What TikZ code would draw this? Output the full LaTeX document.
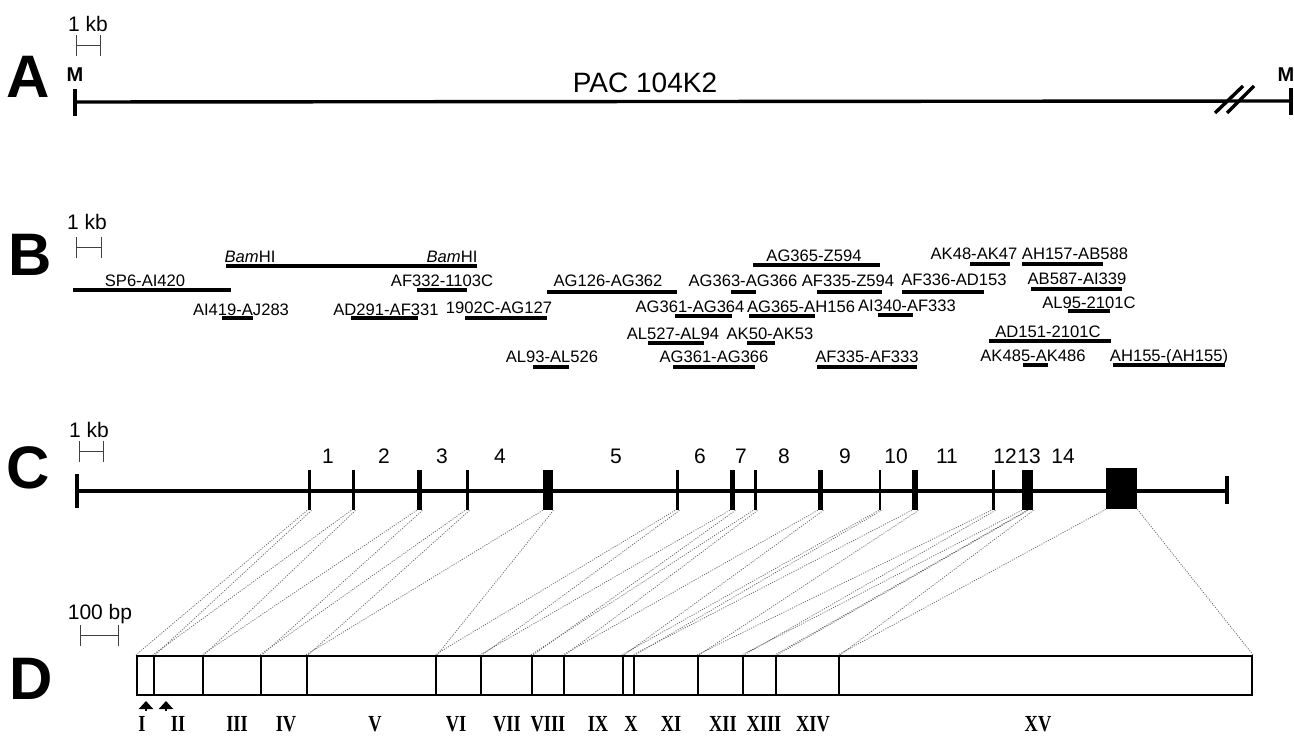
\documentclass[tikz,border=0pt]{standalone}
\usepackage{fontspec}
\setmainfont{Liberation Sans}
\newfontfamily\numfont[FakeStretch=0.8]{Liberation Serif}
\usetikzlibrary{arrows.meta, positioning}

\begin{document}
\begin{tikzpicture}[
    x=0.5pt, y=-0.5pt,
    panel/.style={font=\fontsize{30}{30}\selectfont\bfseries, inner sep=0pt},
    kbtext/.style={font=\fontsize{10.5}{12}\selectfont, anchor=base, inner sep=0pt},
    kbbar/.style={{Bar[width=10.5pt]}-{Bar[width=10.5pt]}, line width=0.5pt, black!75},
    endmark/.style={font=\fontsize{10}{10}\selectfont\bfseries, anchor=base, inner sep=0pt},
    mapline/.style={line width=1.7pt},
    frag/.style={font=\fontsize{8.3}{10}\selectfont, anchor=base, inner sep=0pt},
    clone/.style={line width=1.7pt},
    exon/.style={rectangle, fill=black, inner sep=0pt, minimum height=20pt},
    intron/.style={font=\fontsize{10.5}{12}\selectfont, anchor=base, inner sep=0pt},
    cds/.style={rectangle, draw, line width=1.1pt, inner sep=0pt, minimum height=19.5pt},
    link/.style={black!60, line width=0.4pt, dash pattern=on 0.5pt off 0.7pt},
    numeral/.style={font={\numfont\bfseries\fontsize{11.5}{13}\selectfont}, anchor=base, inner sep=0pt},
    startcodon/.style={-{Triangle[width=7pt, length=4pt]}, line width=1.1pt}
  ]
    \path[use as bounding box, fill=white] (0,0) rectangle (1294,737);

    % A
    \node[panel] (labA) at (28,77) {A};
    \node[kbtext] (kbA) at (88,32) {1 kb};
    \draw[kbbar] (76,46) -- (101,46);
    \node[endmark] (mA0) at (75,82) {M};
    \node[endmark] (mA1) at (1286,82) {M};
    \coordinate (mapA0) at (75,102);
    \coordinate (mapA1) at (1291,101);
    \draw[mapline] (mapA0) -- (mapA1);
    \draw[mapline] (75,89) -- (75,116);
    \draw[mapline] (1291,88) -- (1291,115);
    \draw[mapline] (1215,113) -- (1243,86) (1227,113) -- (1254,86);
    \node[font=\fontsize{14}{16}\selectfont, anchor=base, inner sep=0pt] (pac) at (645,93) {PAC 104K2};

    % B
    \node[panel] (labB) at (30,255) {B};
    \node[kbtext] (kbB) at (87,230) {1 kb};
    \draw[kbbar] (76,248) -- (102,248);

    \node[frag] (bam1) at (250,263) {\textit{Bam}HI};
    \node[frag] (bam2) at (452,263) {\textit{Bam}HI};
    \node[frag] (ag365z) at (814,262) {AG365-Z594};
    \node[frag] (ak48) at (974,260) {AK48-AK47};
    \node[frag] (ah157) at (1075,260) {AH157-AB588};

    \node[frag] (sp6) at (145,287) {SP6-AI420};
    \node[frag] (af332) at (442,287) {AF332-1103C};
    \node[frag] (ag126) at (608,287) {AG126-AG362};
    \node[frag] (ag363) at (743,287) {AG363-AG366};
    \node[frag] (af335z) at (848,287) {AF335-Z594};
    \node[frag] (af336) at (954,286) {AF336-AD153};
    \node[frag] (ab587) at (1077,285) {AB587-AI339};

    \node[frag] (ai419) at (241,315) {AI419-AJ283};
    \node[frag] (ad291) at (386,315) {AD291-AF331};
    \node[frag] (c1902) at (499,314) {1902C-AG127};
    \node[frag] (ag361a) at (690,313) {AG361-AG364};
    \node[frag] (ag365ah) at (801,313) {AG365-AH156};
    \node[frag] (ai340) at (907,312) {AI340-AF333};
    \node[frag] (al95) at (1089,308) {AL95-2101C};

    \node[frag] (al527) at (673,340) {AL527-AL94};
    \node[frag] (ak50) at (770,340) {AK50-AK53};
    \node[frag] (ad151) at (1048,337) {AD151-2101C};

    \node[frag] (al93) at (552,363) {AL93-AL526};
    \node[frag] (ag361b) at (714,363) {AG361-AG366};
    \node[frag] (af335a) at (867,363) {AF335-AF333};
    \node[frag] (ak485) at (1033,361) {AK485-AK486};
    \node[frag] (ah155) at (1169,361) {AH155-(AH155)};

    \draw[clone] (226,266) -- (477,266);
    \draw[clone] (753,265) -- (880,265);
    \draw[clone] (970,264) -- (1010,264);
    \draw[clone] (1022,264) -- (1103,264);
    \draw[clone] (73,290) -- (231,290);
    \draw[clone] (417,290) -- (467,290);
    \draw[clone] (547,292) -- (677,292);
    \draw[clone] (731,292) -- (756,292);
    \draw[clone] (817,292) -- (882,292);
    \draw[clone] (902,292) -- (984,292);
    \draw[clone] (1031,289) -- (1122,289);
    \draw[clone] (222,318) -- (253,318);
    \draw[clone] (351,318) -- (418,318);
    \draw[clone] (465,318) -- (547,318);
    \draw[clone] (675,316) -- (732,316);
    \draw[clone] (749,316) -- (815,316);
    \draw[clone] (878,315) -- (913,315);
    \draw[clone] (1068,311) -- (1110,311);
    \draw[clone] (648,343) -- (704,343);
    \draw[clone] (747,343) -- (775,343);
    \draw[clone] (989,341) -- (1111,341);
    \draw[clone] (533,367) -- (569,367);
    \draw[clone] (673,367) -- (755,367);
    \draw[clone] (817,367) -- (917,367);
    \draw[clone] (1023,365) -- (1048,365);
    \draw[clone] (1113,365) -- (1225,365);

    % C
    \node[panel] (labC) at (28,468) {C};
    \node[kbtext] (kbC) at (89,437) {1 kb};
    \draw[kbbar] (79,451) -- (104,451);
    \coordinate (mapC0) at (77,491);
    \coordinate (mapC1) at (1227,491);
    \draw[mapline] (mapC0) -- (mapC1);
    \draw[mapline] (77,474) -- (77,508);
    \draw[mapline] (1227,476) -- (1227,504);

    \node[exon, minimum width=1.75pt] (c1) at (309.3,490) {};
    \node[exon, minimum width=1.75pt] (c2) at (353.3,490) {};
    \node[exon, minimum width=2.5pt] (c3) at (419.5,490) {};
    \node[exon, minimum width=1.75pt] (c4) at (467.3,490) {};
    \node[exon, minimum width=5pt] (c5) at (548,490) {};
    \node[exon, minimum width=1.75pt] (c6) at (677.3,490) {};
    \node[exon, minimum width=2.5pt] (c7) at (732.5,490) {};
    \node[exon, minimum width=1.75pt] (c8) at (755.3,490) {};
    \node[exon, minimum width=2.5pt] (c9) at (820.5,490) {};
    \node[exon, minimum width=1pt] (c10) at (880,490) {};
    \node[exon, minimum width=3pt] (c11) at (915,490) {};
    \node[exon, minimum width=1.75pt] (c12) at (993.3,490) {};
    \node[exon, minimum width=2.75pt] (c13) at (1024.75,490) {};
    \node[exon, minimum width=2.75pt] (c14) at (1030.25,490) {};
    \node[exon, minimum width=15.5pt, minimum height=20.5pt] (c15) at (1121.5,488.5) {};

    \node[intron] (i1) at (328,463) {1};
    \node[intron] (i2) at (384,463) {2};
    \node[intron] (i3) at (442,463) {3};
    \node[intron] (i4) at (500,463) {4};
    \node[intron] (i5) at (616,463) {5};
    \node[intron] (i6) at (700,463) {6};
    \node[intron] (i7) at (741,463) {7};
    \node[intron] (i8) at (784,463) {8};
    \node[intron] (i9) at (845,463) {9};
    \node[intron] (i10) at (896,463) {10};
    \node[intron] (i11) at (947,463) {11};
    \node[intron] (i12) at (1005,463) {12};
    \node[intron] (i13) at (1029,463) {13};
    \node[intron] (i14) at (1063,463) {14};

    % D
    \node[panel] (labD) at (31,679) {D};
    \node[kbtext] (bpD) at (100,619) {100 bp};
    \draw[kbbar] (80,635) -- (119,635);

    \node[cds, minimum width=8.5pt] (dI) at (145.5,675.5) {};
    \node[cds, minimum width=24.5pt] (dII) at (178.5,675.5) {};
    \node[cds, minimum width=29pt] (dIII) at (232,675.5) {};
    \node[cds, minimum width=23pt] (dIV) at (284,675.5) {};
    \node[cds, minimum width=64.5pt] (dV) at (371.5,675.5) {};
    \node[cds, minimum width=22.5pt] (dVI) at (458.5,675.5) {};
    \node[cds, minimum width=25.5pt] (dVII) at (506.5,675.5) {};
    \node[cds, minimum width=16pt] (dVIII) at (548,675.5) {};
    \node[cds, minimum width=29.5pt] (dIX) at (593.5,675.5) {};
    \node[cds, minimum width=5.5pt] (dX) at (628.5,675.5) {};
    \node[cds, minimum width=32pt] (dXI) at (666,675.5) {};
    \node[cds, minimum width=22.5pt] (dXII) at (720.5,675.5) {};
    \node[cds, minimum width=16.5pt] (dXIII) at (759.5,675.5) {};
    \node[cds, minimum width=31.5pt] (dXIV) at (807.5,675.5) {};
    \node[cds, minimum width=206.5pt] (dXV) at (1045.5,675.5) {};

    \node[numeral] (nI) at (142,731) {I};
    \node[numeral] (nII) at (178,731) {II};
    \node[numeral] (nIII) at (237,731) {III};
    \node[numeral] (nIV) at (286,731) {IV};
    \node[numeral] (nV) at (375,731) {V};
    \node[numeral] (nVI) at (456,731) {VI};
    \node[numeral] (nVII) at (507,731) {VII};
    \node[numeral] (nVIII) at (548,731) {VIII};
    \node[numeral] (nIX) at (598,731) {IX};
    \node[numeral] (nX) at (631,731) {X};
    \node[numeral] (nXI) at (671,731) {XI};
    \node[numeral] (nXII) at (723,731) {XII};
    \node[numeral] (nXIII) at (764,731) {XIII};
    \node[numeral] (nXIV) at (813,731) {XIV};
    \node[numeral] (nXV) at (1038,731) {XV};

    \coordinate (atg1) at (146,711);
    \coordinate (atg2) at (166,711);
    \draw[startcodon] (atg1) -- ++(0,-10);
    \draw[startcodon] (atg2) -- ++(0,-10);

    \draw[link] (c1.south west) -- (dI.north west);
    \draw[link] (c1.south east) -- (dI.north east);
    \draw[link] (c2.south west) -- (dII.north west);
    \draw[link] (c2.south east) -- (dII.north east);
    \draw[link] (c3.south west) -- (dIII.north west);
    \draw[link] (c3.south east) -- (dIII.north east);
    \draw[link] (c4.south west) -- (dIV.north west);
    \draw[link] (c4.south east) -- (dIV.north east);
    \draw[link] (c5.south west) -- (dV.north west);
    \draw[link] (c5.south east) -- (dV.north east);
    \draw[link] (c6.south west) -- (dVI.north west);
    \draw[link] (c6.south east) -- (dVI.north east);
    \draw[link] (c7.south west) -- (dVII.north west);
    \draw[link] (c7.south east) -- (dVII.north east);
    \draw[link] (c8.south west) -- (dVIII.north west);
    \draw[link] (c8.south east) -- (dVIII.north east);
    \draw[link] (c9.south west) -- (dIX.north west);
    \draw[link] (c9.south east) -- (dIX.north east);
    \draw[link] (c10.south west) -- (dX.north west);
    \draw[link] (c10.south east) -- (dX.north east);
    \draw[link] (c11.south west) -- (dXI.north west);
    \draw[link] (c11.south east) -- (dXI.north east);
    \draw[link] (c12.south west) -- (dXII.north west);
    \draw[link] (c12.south east) -- (dXII.north east);
    \draw[link] (c13.south west) -- (dXIII.north west);
    \draw[link] (c13.south east) -- (dXIII.north east);
    \draw[link] (c14.south west) -- (dXIV.north west);
    \draw[link] (c14.south east) -- (dXIV.north east);
    \draw[link] (c15.south west) -- (dXV.north west);
    \draw[link] (c15.south east) -- (dXV.north east);
  \end{tikzpicture}
\end{document}
